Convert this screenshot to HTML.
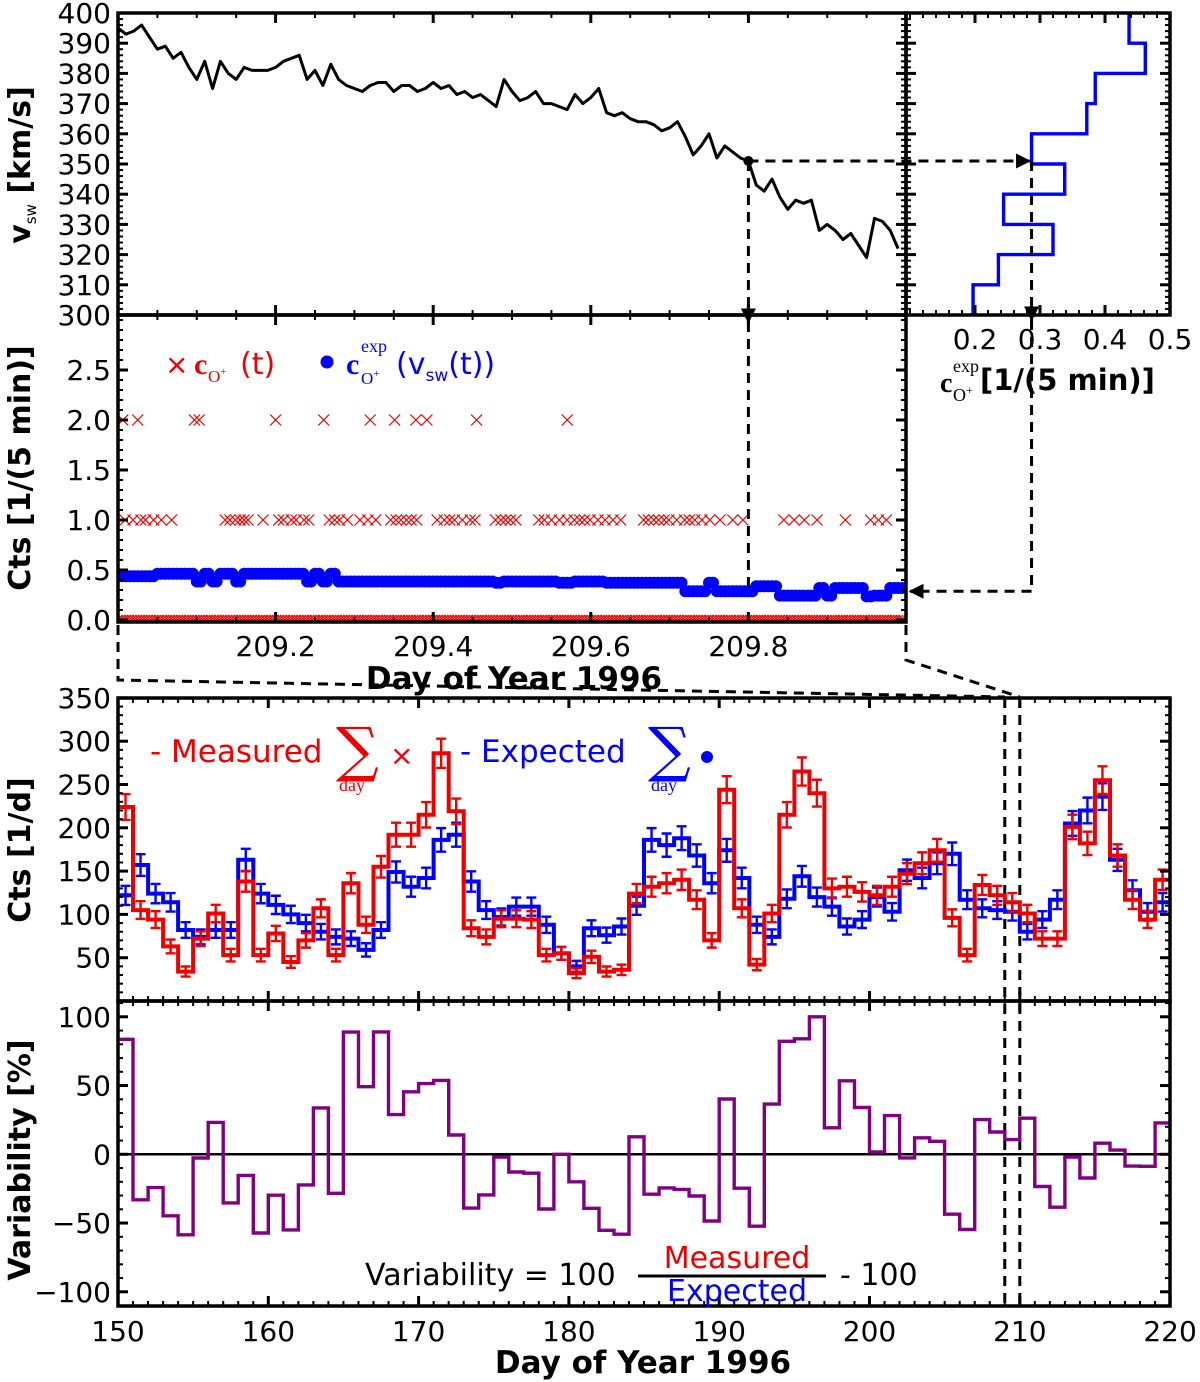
<!DOCTYPE html>
<html><head><meta charset="utf-8"><style>
html,body{margin:0;padding:0;background:#fff}
svg{display:block;font-family:"DejaVu Sans","Liberation Sans",sans-serif}
</style></head><body>
<svg id="fig" width="1200" height="1382" viewBox="0 0 1200 1382" xmlns="http://www.w3.org/2000/svg">
<defs>
<clipPath id="clipTop"><rect x="118" y="13" width="788" height="302"/></clipPath>
<clipPath id="clipMid"><rect x="118" y="315" width="788" height="307"/></clipPath>
<clipPath id="clipCts"><rect x="118" y="698" width="1052" height="303"/></clipPath>
<clipPath id="clipVar"><rect x="118" y="1001" width="1052" height="305"/></clipPath>
<marker id="arr" viewBox="0 0 10 10" refX="9" refY="5" markerWidth="5" markerHeight="5" orient="auto"><path d="M0,0L10,5L0,10z" fill="#000"/></marker>
</defs>
<g id="marks"></g>
<g id="axes"></g>
<g id="labels">
<text x="30" y="165" font-size="30" font-weight="bold" transform="rotate(-90 30 165)" text-anchor="middle">v<tspan font-size="15" dy="6" font-weight="normal">sw</tspan><tspan dy="-6"> [km/s]</tspan></text>
<text x="30" y="468" font-size="30" font-weight="bold" transform="rotate(-90 30 468)" text-anchor="middle">Cts [1/(5 min)]</text>
<text x="30" y="850" font-size="30" font-weight="bold" transform="rotate(-90 30 850)" text-anchor="middle">Cts [1/d]</text>
<text x="30" y="1160" font-size="30" font-weight="bold" transform="rotate(-90 30 1160)" text-anchor="middle">Variability [%]</text>
<text x="514" y="689" font-size="31" font-weight="bold" text-anchor="middle">Day of Year 1996</text>
<text x="643" y="1373" font-size="31" font-weight="bold" text-anchor="middle">Day of Year 1996</text>
<g>
<text x="940" y="392" font-size="28" font-weight="bold" font-family="Liberation Serif,serif">c</text>
<text x="953" y="372" font-size="18" font-family="Liberation Serif,serif">exp</text>
<text x="953" y="401" font-size="18" font-family="Liberation Serif,serif">O<tspan font-size="12" dy="-7">+</tspan></text>
<text x="980" y="390" font-size="29" font-weight="bold">[1/(5 min)]</text>
</g>
<g>
<text x="165" y="374" font-size="28" fill="#e00">×</text>
<text x="194" y="374" font-size="30" fill="#e00" font-weight="bold" font-family="Liberation Serif,serif">c</text>
<text x="208" y="382" font-size="17" fill="#e00" font-family="Liberation Serif,serif">O<tspan font-size="11" dy="-7">+</tspan></text>
<text x="240" y="374" font-size="30" fill="#e00">(t)</text>
<circle cx="327" cy="362" r="6.5" fill="#00f"/>
<text x="346" y="374" font-size="30" fill="#00f" font-weight="bold" font-family="Liberation Serif,serif">c</text>
<text x="361" y="352" font-size="18" fill="#00f" font-family="Liberation Serif,serif">exp</text>
<text x="361" y="384" font-size="17" fill="#00f" font-family="Liberation Serif,serif">O<tspan font-size="11" dy="-7">+</tspan></text>
<text x="396" y="374" font-size="30" fill="#00f">(v<tspan font-size="17" dy="7">sw</tspan><tspan dy="-7">(t))</tspan></text>
</g>
<g>
<text x="150" y="762" font-size="31" fill="#e00">- Measured</text>
<text x="336" y="770" font-size="60" fill="#e00" font-family="DejaVu Serif,serif" transform="scale(1,1)">∑</text>
<text x="339" y="791" font-size="18" fill="#e00" font-family="Liberation Serif,serif">day</text>
<text x="390" y="765" font-size="28" fill="#e00">×</text>
<text x="460" y="762" font-size="31" fill="#00f">- Expected</text>
<text x="648" y="770" font-size="60" fill="#00f" font-family="DejaVu Serif,serif">∑</text>
<text x="651" y="791" font-size="18" fill="#00f" font-family="Liberation Serif,serif">day</text>
<circle cx="707" cy="757" r="6" fill="#00f"/>
</g>
<g>
<text x="365" y="1285" font-size="30">Variability = 100</text>
<text x="737" y="1268" font-size="30" fill="#e00" text-anchor="middle">Measured</text>
<line x1="638" y1="1276" x2="826" y2="1276" stroke="#000" stroke-width="3"/>
<text x="737" y="1301" font-size="30" fill="#00f" text-anchor="middle">Expected</text>
<text x="840" y="1285" font-size="30">- 100</text>
</g>
</g>
</svg>
<script>
// ---- data ----
const vswStart = 209.0;
const vswStep = 0.01;
const vswValues = [395,393,394,396,392,388,389,385,387,382,378,384,375,384,380,378,382,381,381,381,382,384,385,386,378,381,376,383,378,376,375,374,376,377,377,374,376,376,374,375,377,375,376,373,374,372,373,371,369,378,374,371,372,374,370,370,369,368,373,370,372,375,367,366,367,365,364,364,363,361,362,364,359,353,356,360,352,356,354,352,351,343,341,345,339,335,338,337,338,328,330,328,325,327,323,319,332,331,328,322];
const histEdges = [300,310,320,330,340,350,360,370,380,390,400];
const histValues = [0.197,0.236,0.320,0.244,0.338,0.287,0.372,0.385,0.462,0.437];
const countTwoTimes = [209.006,209.025,209.097,209.103,209.200,209.261,209.320,209.351,209.378,209.392,209.455,209.570];
const countOneTimes = [209.009,209.019,209.029,209.035,209.045,209.055,209.068,209.136,209.142,209.149,209.155,209.160,209.165,209.184,209.204,209.210,209.220,209.226,209.236,209.242,209.268,209.275,209.281,209.291,209.307,209.317,209.327,209.346,209.353,209.359,209.366,209.372,209.379,209.405,209.414,209.421,209.427,209.437,209.447,209.453,209.479,209.486,209.492,209.498,209.505,209.534,209.541,209.550,209.560,209.570,209.579,209.586,209.592,209.599,209.609,209.618,209.628,209.638,209.667,209.673,209.680,209.686,209.693,209.699,209.709,209.719,209.725,209.732,209.741,209.751,209.764,209.780,209.793,209.845,209.858,209.871,209.887,209.923,209.955,209.965,209.975];
const dayStart = 150;
const measured = [224,105,94,63,34,72,101,53,138,53,78,45,70,107,53,136,88,155,192,192,215,286,219,84,74,95,95,94,53,55,32,51,34,36,124,132,136,140,117,70,244,107,42,101,215,265,240,130,132,126,122,132,147,159,174,96,53,134,122,114,101,72,72,201,182,255,168,117,94,140];
const expected = [122,157,124,114,82,74,82,82,163,124,111,100,90,80,74,72,59,82,149,132,142,186,192,138,105,97,109,109,88,55,40,84,76,86,110,186,180,188,168,136,174,142,88,74,118,144,120,109,86,94,120,103,151,142,159,170,117,107,105,103,80,94,117,205,220,236,163,128,103,114];
const highlightDay = 209.8;
const midTicks = [209.2,209.4,209.6,209.8];
const vswTicks = [300,310,320,330,340,350,360,370,380,390,400];
const cTicks = [0.0,0.5,1.0,1.5,2.0,2.5];
const histTicks = [0.2,0.3,0.4,0.5];
const ctsTicks = [50,100,150,200,250,300,350];
const varTicks = [-100,-50,0,50,100];
const dayTicks = [150,160,170,180,190,200,210,220];

// ---- scales ----
const xT = d => 118 + (d - 209) * 788;
const yV = v => 315 - (v - 300) * 3.02;
const yC = c => 620 - c * 100;
const xH = c => 1170 - (0.5 - c) * 650;
const xD = d => 118 + (d - 150) * 15.03;
const yN = n => 1001 - n * 0.866;
const yP = p => 1154.3 - p * 1.375;

const NS = 'http://www.w3.org/2000/svg';
const marks = document.getElementById('marks');
const axes = document.getElementById('axes');
function mk(tag, attrs, parent) {
  const e = document.createElementNS(NS, tag);
  for (const k in attrs) e.setAttribute(k, attrs[k]);
  (parent || marks).appendChild(e);
  return e;
}
function expFor(v) {
  let i = Math.floor((v - histEdges[0]) / 10);
  i = Math.max(0, Math.min(histValues.length - 1, i));
  return histValues[i];
}

// ---- top panel: vsw line ----
let d = '';
vswValues.forEach((v, i) => { d += (i ? 'L' : 'M') + xT(vswStart + i * vswStep).toFixed(1) + ',' + yV(v).toFixed(1); });
const vl = mk('path', {d: d, fill: 'none', stroke: '#000', 'stroke-width': 3, 'stroke-linejoin': 'round', 'clip-path': 'url(#clipTop)'});



// ---- histogram ----
let hd = 'M' + xH(histValues[0]) + ',' + yV(histEdges[0]);
histValues.forEach((h, i) => {
  hd += 'L' + xH(h) + ',' + yV(histEdges[i]) + 'L' + xH(h) + ',' + yV(histEdges[i + 1]);
  if (i < histValues.length - 1) hd += 'L' + xH(histValues[i + 1]) + ',' + yV(histEdges[i + 1]);
});
const hp = mk('path', {d: hd, fill: 'none', stroke: '#00f', 'stroke-width': 3.4});



// ---- middle panel: counts ----
const zg = mk('g', {'clip-path': 'url(#clipMid)'});


function cross(t, c, g, s) {
  const x = xT(t), y = yC(c);
  mk('path', {d: `M${x - s},${y - s}L${x + s},${y + s}M${x - s},${y + s}L${x + s},${y - s}`, stroke: '#e00', 'stroke-width': 1.2, fill: 'none'}, g);
}
for (let k = 0; k < 288; k++) cross(209 + k / 288, 0, zg, 5);
const g1 = mk('g', {});


countOneTimes.forEach(t => cross(t, 1, g1, 5.5));
countTwoTimes.forEach(t => cross(t, 2, g1, 5.5));
const bg = mk('g', {'clip-path': 'url(#clipMid)'});


vswValues.forEach((v, i) => {
  const c = expFor(v), x = xT(vswStart + i * vswStep);
  mk('circle', {cx: x, cy: yC(c), r: 6, fill: '#00f'}, bg);
  mk('circle', {cx: x + 4, cy: yC(c), r: 6, fill: '#00f'}, bg);
});

// ---- dashed guide lines ----
const hv = vswValues[Math.round((highlightDay - vswStart) / vswStep)];
const hx = xT(highlightDay), hy = yV(hv);
const hcx = xH(expFor(hv));
const dg = mk('g', {stroke: '#000', 'stroke-width': 3, 'stroke-dasharray': '10,7', fill: 'none'});


mk('circle', {cx: hx, cy: hy, r: 5, fill: '#000', stroke: 'none'}, dg);
mk('line', {x1: hx, y1: hy, x2: hcx - 2, y2: hy, 'marker-end': 'url(#arr)'}, dg);
mk('line', {x1: hx, y1: hy, x2: hx, y2: 322, 'marker-end': 'url(#arr)'}, dg);
mk('line', {x1: hx, y1: 322, x2: hx, y2: yC(expFor(hv))}, dg);
mk('line', {x1: hcx, y1: hy, x2: hcx, y2: 320, 'marker-end': 'url(#arr)'}, dg);
mk('line', {x1: hcx, y1: 320, x2: hcx, y2: yC(expFor(hv))}, dg);
mk('line', {x1: hcx, y1: yC(expFor(hv)), x2: 910, y2: yC(expFor(hv)), 'marker-end': 'url(#arr)'}, dg);
mk('polyline', {points: `118,625 118,680 ${xD(209)},697`}, dg);
mk('polyline', {points: `906,625 906,660 ${xD(210)},697`}, dg);
mk('line', {x1: xD(209), y1: 698, x2: xD(209), y2: 1306}, dg);
mk('line', {x1: xD(210), y1: 698, x2: xD(210), y2: 1306}, dg);

// ---- daily counts ----
function stepPath(arr, yf) {
  let p = '';
  arr.forEach((v, i) => {
    const x0 = xD(dayStart + i), x1 = xD(dayStart + i + 1);
    p += (i ? 'L' : 'M') + x0.toFixed(1) + ',' + yf(v).toFixed(1) + 'L' + x1.toFixed(1) + ',' + yf(v).toFixed(1);
  });
  return p;
}
function series(arr, color, name) {
  const g = mk('g', {'clip-path': 'url(#clipCts)'});
  
  
  mk('path', {d: stepPath(arr, yN), fill: 'none', stroke: color, 'stroke-width': 4}, g);
  arr.forEach((v, i) => {
    const x = xD(dayStart + i + 0.5), e = Math.sqrt(v);
    mk('path', {d: `M${x},${yN(v - e)}L${x},${yN(v + e)}M${x - 5},${yN(v - e)}L${x + 5},${yN(v - e)}M${x - 5},${yN(v + e)}L${x + 5},${yN(v + e)}`, stroke: color, 'stroke-width': 2.4, fill: 'none'}, g);
  });
}
series(expected, '#00f', 'expected-daily-series');
series(measured, '#e00', 'measured-daily-series');

// ---- variability ----
const variability = measured.map((m, i) => 100 * m / expected[i] - 100);
mk('line', {x1: 118, y1: yP(0), x2: 1170, y2: yP(0), stroke: '#000', 'stroke-width': 2.5});
const vp = mk('path', {d: stepPath(variability, yP), fill: 'none', stroke: '#800080', 'stroke-width': 3.4, 'clip-path': 'url(#clipVar)'});



// ---- axes ----
function frame(x0, y0, x1, y1, name) {
  const r = mk('rect', {x: x0, y: y0, width: x1 - x0, height: y1 - y0, fill: 'none', stroke: '#000', 'stroke-width': 3.5}, axes);
  
  
}
function tk(x1, y1, x2, y2, w) { mk('line', {x1, y1, x2, y2, stroke: '#000', 'stroke-width': w}, axes); }
function lbl(x, y, s, anchor, name) {
  const t = mk('text', {x, y, 'font-size': 28, 'text-anchor': anchor}, axes);
  t.textContent = s;
  
  
}
function xTicks(f, maj, minStep, lo, hi, y0, y1, both) {
  for (let v = lo; v <= hi + 1e-9; v += minStep) { const x = f(v); tk(x, y1, x, y1 - 5, 2); if (both) tk(x, y0, x, y0 + 5, 2); }
  maj.forEach(v => { const x = f(v); tk(x, y1, x, y1 - 10, 3); if (both) tk(x, y0, x, y0 + 10, 3); });
}
function yTicks(f, maj, minStep, lo, hi, x0, x1) {
  for (let v = lo; v <= hi + 1e-9; v += minStep) { const y = f(v); tk(x0, y, x0 + 5, y, 2); tk(x1, y, x1 - 5, y, 2); }
  maj.forEach(v => { const y = f(v); tk(x0, y, x0 + 10, y, 3); tk(x1, y, x1 - 10, y, 3); });
}
// top
frame(118, 13, 906, 315, 'vsw-panel');
xTicks(xT, midTicks, 0.05, 209, 210, 13, 315, true);
yTicks(yV, vswTicks, 2, 300, 400, 118, 906);
vswTicks.forEach(v => lbl(111, yV(v) + 10, String(v), 'end', 'vsw-tick-label'));
// histogram
frame(906, 13, 1170, 315, 'histogram-panel');
xTicks(xH, histTicks, 0.02, 0.1, 0.5, 13, 315, true);
yTicks(yV, vswTicks, 2, 300, 400, 906, 1170);
histTicks.forEach(v => lbl(xH(v), 349, v.toFixed(1), 'middle', 'hist-tick-label'));
// middle
frame(118, 315, 906, 622, 'counts-5min-panel');
xTicks(xT, midTicks, 0.05, 209, 210, 315, 622, true);
yTicks(yC, cTicks, 0.1, 0, 3.0, 118, 906);
cTicks.forEach(v => lbl(111, yC(v) + 10, v.toFixed(1), 'end', 'counts-tick-label'));
midTicks.forEach(v => lbl(xT(v), 656, v.toFixed(1), 'middle', 'mid-day-tick-label'));
// cts daily
frame(118, 698, 1170, 1001, 'counts-daily-panel');
xTicks(xD, dayTicks, 1, 150, 220, 698, 1001, true);
yTicks(yN, ctsTicks, 10, 0, 350, 118, 1170);
ctsTicks.forEach(v => lbl(111, yN(v) + 10, String(v), 'end', 'cts-tick-label'));
// variability
frame(118, 1001, 1170, 1306, 'variability-panel');
xTicks(xD, dayTicks, 1, 150, 220, 1001, 1306, true);
yTicks(yP, varTicks, 10, -110, 110, 118, 1170);
varTicks.forEach(v => lbl(111, yP(v) + 10, (v < 0 ? '\u2212' : '') + Math.abs(v), 'end', 'variability-tick-label'));
dayTicks.forEach(v => lbl(xD(v), 1341, String(v), 'middle', 'day-tick-label'));
</script>
</body></html>
